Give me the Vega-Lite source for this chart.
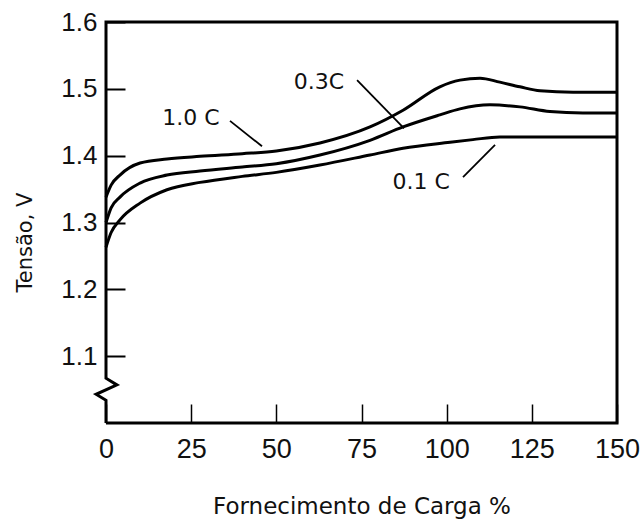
{
  "$schema": "https://vega.github.io/schema/vega-lite/v6.json",
  "width": 511,
  "height": 401,
  "autosize": {"type": "none"},
  "padding": {"left": 106, "top": 22, "right": 27, "bottom": 97},
  "background": "white",
  "config": {
    "view": {"stroke": null},
    "axis": {"grid": false, "domain": false, "tickColor": "black", "labelColor": "#111", "titleColor": "#111", "titleFontWeight": "normal"}
  },
  "datasets": {
    "curves": [
      {"series": "1.0 C", "x": 0, "y": 1.338},
      {"series": "1.0 C", "x": 1.5, "y": 1.356},
      {"series": "1.0 C", "x": 4.1, "y": 1.371},
      {"series": "1.0 C", "x": 10, "y": 1.389},
      {"series": "1.0 C", "x": 17.9, "y": 1.395},
      {"series": "1.0 C", "x": 27.6, "y": 1.399},
      {"series": "1.0 C", "x": 40, "y": 1.403},
      {"series": "1.0 C", "x": 50, "y": 1.407},
      {"series": "1.0 C", "x": 62.8, "y": 1.419},
      {"series": "1.0 C", "x": 77.5, "y": 1.443},
      {"series": "1.0 C", "x": 87.2, "y": 1.468},
      {"series": "1.0 C", "x": 98, "y": 1.503},
      {"series": "1.0 C", "x": 103.9, "y": 1.513},
      {"series": "1.0 C", "x": 109.8, "y": 1.516},
      {"series": "1.0 C", "x": 115.6, "y": 1.51},
      {"series": "1.0 C", "x": 121.5, "y": 1.503},
      {"series": "1.0 C", "x": 127.4, "y": 1.497},
      {"series": "1.0 C", "x": 137.1, "y": 1.495},
      {"series": "1.0 C", "x": 150, "y": 1.495},
      {"series": "0.3C", "x": 0, "y": 1.3},
      {"series": "0.3C", "x": 1.5, "y": 1.322},
      {"series": "0.3C", "x": 4.1, "y": 1.338},
      {"series": "0.3C", "x": 10, "y": 1.359},
      {"series": "0.3C", "x": 17.9, "y": 1.371},
      {"series": "0.3C", "x": 27.6, "y": 1.377},
      {"series": "0.3C", "x": 40, "y": 1.383},
      {"series": "0.3C", "x": 50, "y": 1.388},
      {"series": "0.3C", "x": 62.8, "y": 1.401},
      {"series": "0.3C", "x": 77.5, "y": 1.423},
      {"series": "0.3C", "x": 87.2, "y": 1.443},
      {"series": "0.3C", "x": 98, "y": 1.461},
      {"series": "0.3C", "x": 103.9, "y": 1.47},
      {"series": "0.3C", "x": 112.7, "y": 1.476},
      {"series": "0.3C", "x": 121.5, "y": 1.473},
      {"series": "0.3C", "x": 130.3, "y": 1.466},
      {"series": "0.3C", "x": 140, "y": 1.464},
      {"series": "0.3C", "x": 150, "y": 1.464},
      {"series": "0.1 C", "x": 0, "y": 1.263},
      {"series": "0.1 C", "x": 1.5, "y": 1.285},
      {"series": "0.1 C", "x": 4.1, "y": 1.304},
      {"series": "0.1 C", "x": 10, "y": 1.329},
      {"series": "0.1 C", "x": 17.9, "y": 1.349},
      {"series": "0.1 C", "x": 27.6, "y": 1.36},
      {"series": "0.1 C", "x": 40, "y": 1.369},
      {"series": "0.1 C", "x": 50, "y": 1.375},
      {"series": "0.1 C", "x": 62.8, "y": 1.386},
      {"series": "0.1 C", "x": 77.5, "y": 1.401},
      {"series": "0.1 C", "x": 87.2, "y": 1.411},
      {"series": "0.1 C", "x": 101, "y": 1.42},
      {"series": "0.1 C", "x": 107.7, "y": 1.424},
      {"series": "0.1 C", "x": 115.6, "y": 1.428},
      {"series": "0.1 C", "x": 127.4, "y": 1.428},
      {"series": "0.1 C", "x": 150, "y": 1.428}
    ],
    "frame": [
      {"i": 1, "x": 0, "y": 1.0},
      {"i": 2, "x": 0, "y": 1.034},
      {"i": 3, "x": -2.9, "y": 1.043},
      {"i": 4, "x": 3.2, "y": 1.057},
      {"i": 5, "x": 0, "y": 1.067},
      {"i": 6, "x": 0, "y": 1.6},
      {"i": 7, "x": 150, "y": 1.6},
      {"i": 8, "x": 150, "y": 1.0},
      {"i": 9, "x": 0, "y": 1.0}
    ],
    "leaders": [
      {"series": "1.0 C", "x": 36.4, "y": 1.452, "x2": 45.8, "y2": 1.414},
      {"series": "0.3C", "x": 73.7, "y": 1.513, "x2": 87.5, "y2": 1.441},
      {"series": "0.1 C", "x": 104.8, "y": 1.368, "x2": 114.2, "y2": 1.416}
    ],
    "labels": [
      {"series": "1.0 C", "x": 24.9, "y": 1.456},
      {"series": "0.3C", "x": 62.5, "y": 1.51},
      {"series": "0.1 C", "x": 92.5, "y": 1.36}
    ]
  },
  "layer": [
    {
      "data": {"name": "frame"},
      "mark": {"type": "line", "color": "black", "strokeWidth": 3, "clip": false, "strokeJoin": "miter"},
      "encoding": {
        "x": {
          "field": "x", "type": "quantitative",
          "scale": {"domain": [0, 150], "nice": false, "zero": false},
          "axis": {
            "values": [0, 25, 50, 75, 100, 125, 150],
            "tickSize": -19, "tickWidth": 1.5, "labelFlush": false,
            "labelFont": "Liberation Sans", "labelFontSize": 27, "labelPadding": 32,
            "title": "Fornecimento de Carga %",
            "titleFont": "DejaVu Sans", "titleFontSize": 23, "titlePadding": 33
          }
        },
        "y": {
          "field": "y", "type": "quantitative",
          "scale": {"domain": [1.0, 1.6], "nice": false, "zero": false},
          "axis": {
            "values": [1.1, 1.2, 1.3, 1.4, 1.5, 1.6],
            "format": ".1f",
            "tickSize": -19, "tickWidth": 2,
            "labelFont": "Liberation Sans", "labelFontSize": 26, "labelPadding": 28,
            "title": "Tensão, V",
            "titleFont": "DejaVu Sans", "titleFontSize": 21, "titlePadding": 25, "titleY": 220
          }
        },
        "order": {"field": "i", "type": "quantitative"}
      }
    },
    {
      "data": {"name": "curves"},
      "mark": {"type": "line", "color": "black", "strokeWidth": 3, "interpolate": "monotone"},
      "encoding": {
        "x": {"field": "x", "type": "quantitative"},
        "y": {"field": "y", "type": "quantitative"},
        "detail": {"field": "series", "type": "nominal"}
      }
    },
    {
      "data": {"name": "leaders"},
      "mark": {"type": "rule", "color": "black", "strokeWidth": 1.8},
      "encoding": {
        "x": {"field": "x", "type": "quantitative"},
        "y": {"field": "y", "type": "quantitative"},
        "x2": {"field": "x2"},
        "y2": {"field": "y2"}
      }
    },
    {
      "data": {"name": "labels"},
      "mark": {"type": "text", "font": "DejaVu Sans", "fontSize": 22, "color": "#111", "align": "center", "baseline": "middle"},
      "encoding": {
        "x": {"field": "x", "type": "quantitative"},
        "y": {"field": "y", "type": "quantitative"},
        "text": {"field": "series", "type": "nominal"}
      }
    }
  ]
}
